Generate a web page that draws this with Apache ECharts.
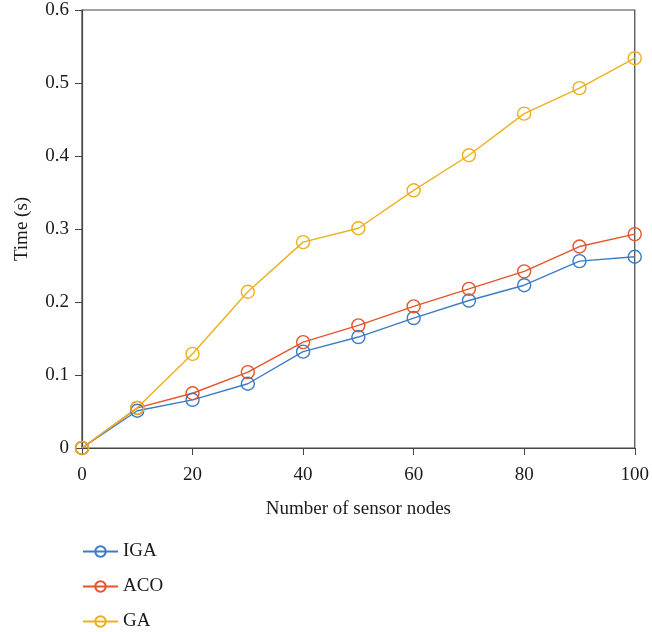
<!DOCTYPE html>
<html>
<head>
<meta charset="utf-8">
<script src="https://cdn.jsdelivr.net/npm/echarts@6/dist/echarts.min.js"></script>
<style>
html, body { margin: 0; padding: 0; background: #fff; }
#container { width: 652px; height: 632px; }
</style>
</head>
<body>
<div id="container"></div>
<script>
var nodes = [0, 10, 20, 30, 40, 50, 60, 70, 80, 90, 100];
var iga = [0, 0.051, 0.066, 0.088, 0.132, 0.152, 0.178, 0.202, 0.223, 0.256, 0.262];
var aco = [0, 0.055, 0.075, 0.104, 0.145, 0.168, 0.194, 0.218, 0.242, 0.276, 0.293];
var ga = [0, 0.055, 0.129, 0.214, 0.282, 0.301, 0.353, 0.401, 0.458, 0.493, 0.534];
var names = ['IGA', 'ACO', 'GA'];
var colors = ['#3b7dc4', '#e4552a', '#ecb01f'];

var font = '"Liberation Serif", "DejaVu Serif", serif';

function pairs(ys) {
    return nodes.map(function (x, i) { return [x, ys[i]]; });
}

function line(name, ys, color) {
    return {
        name: name,
        type: 'line',
        data: pairs(ys),
        symbol: 'circle',
        symbolSize: 13,
        lineStyle: { color: color, width: 1.4 },
        itemStyle: { color: 'rgba(255,255,255,0)', borderColor: color, borderWidth: 1.4 },
        emphasis: { disabled: true }
    };
}

function legendAt(name, top) {
    return {
        orient: 'vertical',
        left: 82, top: top, padding: 0,
        itemWidth: 35, itemHeight: 13, itemGap: 6,
        textStyle: { fontFamily: font, fontSize: 19, color: '#1a1a1a' },
        data: [name]
    };
}

var dom = document.getElementById('container');
var myChart = echarts.init(dom);
var option = {
    backgroundColor: '#fff',
    animation: false,
    grid: {
        left: 82, right: 14, top: 10, bottom: 184,
        show: true, borderColor: '#444', borderWidth: 1.2
    },
    legend: [legendAt(names[0], 542), legendAt(names[1], 577), legendAt(names[2], 612)],
    xAxis: {
        type: 'value',
        min: 0, max: 100, interval: 20,
        name: 'Number of sensor nodes',
        nameLocation: 'middle',
        nameGap: 52,
        nameTextStyle: { fontFamily: font, fontSize: 19, color: '#1a1a1a' },
        axisLine: { lineStyle: { color: '#444', width: 1.2 } },
        axisTick: { inside: false, length: 7, lineStyle: { color: '#444' } },
        axisLabel: { fontFamily: font, fontSize: 19, color: '#1a1a1a', margin: 18 },
        splitLine: { show: false }
    },
    yAxis: {
        type: 'value',
        min: 0, max: 0.6, interval: 0.1,
        name: 'Time (s)',
        nameLocation: 'middle',
        nameGap: 50,
        nameTextStyle: { fontFamily: font, fontSize: 19, color: '#1a1a1a' },
        axisLine: { show: true, lineStyle: { color: '#444', width: 1.2 } },
        axisTick: { show: true, inside: false, length: 7, lineStyle: { color: '#444' } },
        axisLabel: { fontFamily: font, fontSize: 19, color: '#1a1a1a', margin: 13 },
        splitLine: { show: false }
    },
    series: [
        line(names[0], iga, colors[0]),
        line(names[1], aco, colors[1]),
        line(names[2], ga, colors[2])
    ]
};
myChart.setOption(option, true);
</script>
</body>
</html>
